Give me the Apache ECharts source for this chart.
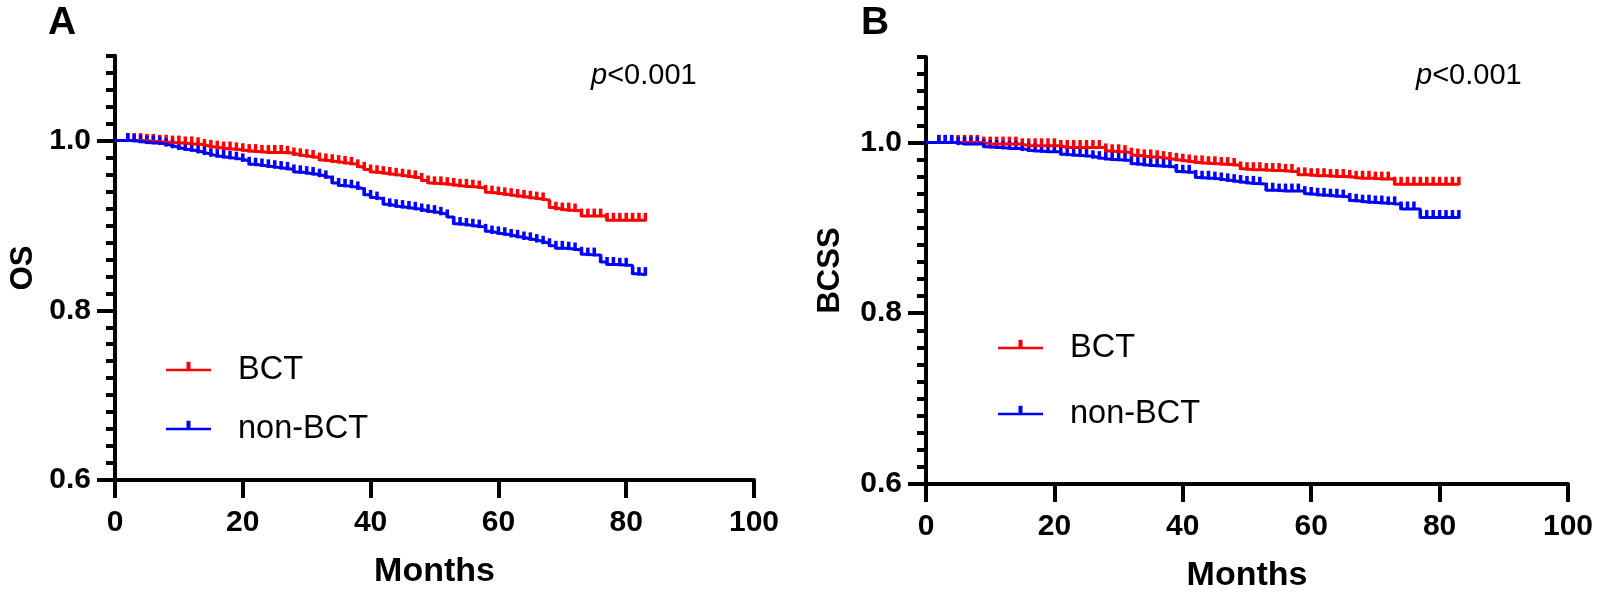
<!DOCTYPE html>
<html><head><meta charset="utf-8">
<script src="https://cdn.jsdelivr.net/npm/echarts@6/dist/echarts.min.js"></script>
<style>html,body{margin:0;padding:0;background:#fff}#c{width:1600px;height:592px}</style>
</head><body><div id="c"></div>
<script>
// Survival by month (index = month 0..83)
const osBCT = [1.000,1.000,1.000,1.000,1.000,0.999,0.999,0.998,0.998,0.997,
 0.997,0.996,0.996,0.995,0.993,0.992,0.991,0.990,0.990,0.989,
 0.988,0.987,0.987,0.986,0.986,0.986,0.986,0.985,0.983,0.982,
 0.981,0.980,0.977,0.976,0.975,0.974,0.973,0.972,0.969,0.966,
 0.963,0.962,0.961,0.960,0.959,0.958,0.957,0.956,0.953,0.950,
 0.949,0.949,0.948,0.947,0.946,0.946,0.945,0.944,0.939,0.938,
 0.937,0.936,0.935,0.934,0.933,0.932,0.931,0.930,0.921,0.919,
 0.918,0.918,0.917,0.911,0.911,0.911,0.911,0.906,0.906,0.906,
 0.906,0.906,0.906,0.906];
const osNonBCT = [1.000,1.000,1.000,0.999,0.998,0.997,0.997,0.996,0.994,0.992,
 0.990,0.989,0.988,0.986,0.984,0.982,0.981,0.980,0.979,0.978,
 0.976,0.972,0.971,0.970,0.969,0.968,0.967,0.966,0.963,0.962,
 0.961,0.960,0.958,0.956,0.950,0.947,0.946,0.945,0.943,0.936,
 0.933,0.931,0.925,0.923,0.922,0.921,0.920,0.919,0.917,0.916,
 0.915,0.913,0.910,0.902,0.901,0.900,0.899,0.898,0.893,0.891,
 0.890,0.889,0.887,0.886,0.884,0.883,0.881,0.879,0.876,0.873,
 0.873,0.872,0.871,0.866,0.865,0.865,0.857,0.854,0.854,0.853,
 0.853,0.843,0.842,0.842];
const bcssBCT = [1.000,1.000,1.000,1.000,1.000,1.000,1.000,1.000,1.000,0.998,
 0.998,0.998,0.998,0.998,0.998,0.996,0.996,0.996,0.996,0.996,
 0.996,0.994,0.994,0.994,0.994,0.994,0.994,0.994,0.990,0.989,
 0.989,0.988,0.985,0.984,0.983,0.983,0.982,0.981,0.980,0.979,
 0.978,0.977,0.976,0.976,0.975,0.975,0.974,0.974,0.973,0.969,
 0.968,0.968,0.968,0.967,0.967,0.967,0.966,0.966,0.962,0.962,
 0.961,0.961,0.961,0.960,0.960,0.960,0.959,0.958,0.958,0.958,
 0.957,0.957,0.957,0.951,0.951,0.951,0.951,0.951,0.951,0.951,
 0.951,0.951,0.951,0.951];
const bcssNonBCT = [1.000,1.000,1.000,1.000,1.000,0.998,0.998,0.998,0.998,0.995,
 0.994,0.994,0.993,0.993,0.993,0.991,0.990,0.990,0.989,0.989,
 0.989,0.986,0.985,0.985,0.984,0.984,0.982,0.981,0.980,0.980,
 0.979,0.979,0.975,0.974,0.973,0.973,0.972,0.972,0.971,0.966,
 0.965,0.965,0.959,0.958,0.958,0.957,0.956,0.955,0.954,0.953,
 0.952,0.952,0.951,0.944,0.944,0.943,0.943,0.943,0.943,0.940,
 0.939,0.938,0.938,0.937,0.937,0.936,0.932,0.931,0.930,0.930,
 0.929,0.929,0.928,0.928,0.922,0.922,0.922,0.912,0.912,0.912,
 0.912,0.912,0.912,0.912];
// Censoring marks (months)
const censorMonths = [2,3,4,5,6,7,8,9,10,11,12,13,14,15,16,17,18,19,20,21,22,23,24,25,26,27,28,29,30,
 31,32,33,34,35,36,37,38,39,40,41,42,43,44,45,46,47,48,49,50,51,52,53,54,55,56,57,58,59,60,
 61,62,63,64,65,66,67,68,69,70,71,72,73,74,75,76,77,78,79,80,81,82,83];
const groupNames = ['BCT', 'non-BCT'];
const xTicks = [0, 20, 40, 60, 80, 100];
const yMajor = [0.6, 0.8, 1.0];
const yMinor = [0.62,0.64,0.66,0.68,0.70,0.72,0.74,0.76,0.78,0.82,0.84,0.86,0.88,0.90,0.92,0.94,0.96,0.98,1.02,1.04,1.06,1.08,1.10];
const panelLetters = ['A', 'B'];
const yTitles = ['OS', 'BCSS'];
const xTitle = 'Months';
const pText = 'p<0.001';

const FONT = '"Liberation Sans", Arial, Helvetica, sans-serif';
const RED = '#ff0000', BLUE = '#0000ff';
const ICON = 'path://M0,7 L20.5,7 L20.5,0 L24.5,0 L24.5,7 L45,7 L45,9.5 L0,9.5 Z M0,16.5 L0.01,16.5 L0,16.5 Z';

const grids = [
  {left: 115, top: 55.7, width: 639, height: 424.3, outerBoundsMode: 'none'},
  {left: 926, top: 57, width: 642, height: 427, outerBoundsMode: 'none'}
];

function xAxis(gi) {
  return {type: 'value', gridIndex: gi, min: 0, max: 100, interval: 20,
    name: xTitle, nameLocation: 'middle', nameGap: 75,
    nameTextStyle: {fontFamily: FONT, fontSize: 34, fontWeight: 'bold', color: '#000'},
    axisLine: {show: true, lineStyle: {color: '#000', width: 4}},
    axisTick: {show: true, length: 18, lineStyle: {color: '#000', width: 4}, customValues: xTicks},
    axisLabel: {fontFamily: FONT, fontSize: 30, fontWeight: 'bold', color: '#000', margin: 28, customValues: xTicks},
    splitLine: {show: false}};
}
function yAxisMain(gi, name, gap) {
  return {type: 'value', gridIndex: gi, min: 0.6, max: 1.1, position: 'left',
    name: name, nameLocation: 'middle', nameGap: gap, nameRotate: 90,
    nameTextStyle: {fontFamily: FONT, fontSize: 31, fontWeight: 'bold', color: '#000'},
    axisLine: {show: true, onZero: false, lineStyle: {color: '#000', width: 4}},
    axisTick: {show: true, length: 18, lineStyle: {color: '#000', width: 4}, customValues: yMajor},
    axisLabel: {fontFamily: FONT, fontSize: 30, fontWeight: 'bold', color: '#000', margin: 24,
      customValues: yMajor, formatter: v => Number(v).toFixed(1)},
    splitLine: {show: false}};
}
function yAxisMinor(gi) {
  return {type: 'value', gridIndex: gi, min: 0.6, max: 1.1, position: 'left', offset: 0,
    axisLine: {show: false},
    axisTick: {show: true, length: 9, lineStyle: {color: '#000', width: 4}, customValues: yMinor},
    axisLabel: {show: false},
    splitLine: {show: false}};
}

function lineSeries(name, vals, color, xi, yi) {
  return {type: 'line', name: name, xAxisIndex: xi, yAxisIndex: yi,
    data: vals.map((v, i) => [i, v]), step: 'end', symbol: 'none', showSymbol: false,
    color: color, itemStyle: {color: color}, lineStyle: {color: color, width: 3},
    animation: false};
}
function censorSeries(name, vals, color, xi, yi) {
  return {type: 'custom', name: name, xAxisIndex: xi, yAxisIndex: yi,
    data: censorMonths.map(m => [m, vals[m]]), color: color, itemStyle: {color: color},
    animation: false, silent: true,
    renderItem: function (params, api) {
      const p = api.coord([api.value(0), api.value(1)]);
      return {type: 'line', shape: {x1: p[0], y1: p[1] + 1, x2: p[0], y2: p[1] - 7.5},
        style: {stroke: color, lineWidth: 3.5}};
    }};
}

function legend(left, top, gap) {
  return {data: groupNames, orient: 'vertical', left: left, top: top, padding: 0,
    itemWidth: 45, itemHeight: 16.5, itemGap: gap, icon: ICON, symbolKeepAspect: false,
    itemStyle: {borderWidth: 0},
    textStyle: {fontFamily: FONT, fontSize: 32.5, color: '#000', lineHeight: 36, padding: [0, 0, 0, 22]}};
}

const pLabel = '{i|' + pText.charAt(0) + '}' + pText.slice(1);
const pStyle = {fontFamily: FONT, fontSize: 29, fontWeight: 'normal', color: '#000',
  rich: {i: {fontFamily: FONT, fontSize: 29, fontStyle: 'italic', color: '#000'}}};

const option = {
  backgroundColor: '#fff',
  animation: false,
  title: [
    {text: panelLetters[0], left: 48, top: 4, padding: 0, textStyle: {fontFamily: FONT, fontSize: 39, fontWeight: 'bold', color: '#000'}},
    {text: panelLetters[1], left: 861, top: 4, padding: 0, textStyle: {fontFamily: FONT, fontSize: 39, fontWeight: 'bold', color: '#000'}},
    {text: pLabel, left: 591, top: 61, padding: 0, textStyle: pStyle},
    {text: pLabel, left: 1416, top: 61, padding: 0, textStyle: pStyle}
  ],
  legend: [legend(166, 352, 23), legend(998, 330, 30)],
  grid: grids,
  xAxis: [xAxis(0), xAxis(1)],
  yAxis: [yAxisMain(0, yTitles[0], 76), yAxisMinor(0), yAxisMain(1, yTitles[1], 80), yAxisMinor(1)],
  series: [
    lineSeries(groupNames[0], osBCT, RED, 0, 0),
    censorSeries(groupNames[0], osBCT, RED, 0, 0),
    lineSeries(groupNames[1], osNonBCT, BLUE, 0, 0),
    censorSeries(groupNames[1], osNonBCT, BLUE, 0, 0),
    lineSeries(groupNames[0], bcssBCT, RED, 1, 2),
    censorSeries(groupNames[0], bcssBCT, RED, 1, 2),
    lineSeries(groupNames[1], bcssNonBCT, BLUE, 1, 2),
    censorSeries(groupNames[1], bcssNonBCT, BLUE, 1, 2)
  ]
};
const chart = echarts.init(document.getElementById('c'), null, {renderer: 'canvas'});
chart.setOption(option);
</script></body></html>
